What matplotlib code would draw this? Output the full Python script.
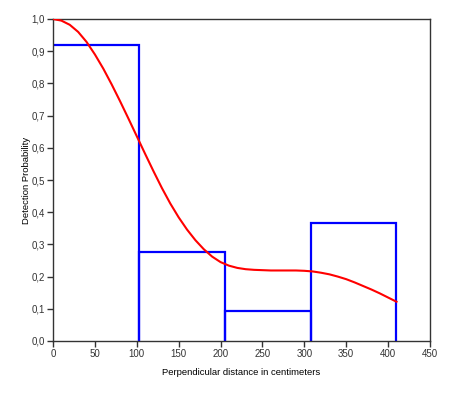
import numpy as np
import matplotlib
matplotlib.use("Agg")
import matplotlib.pyplot as plt
from matplotlib.ticker import FuncFormatter

plt.rcParams['font.family'] = ['Liberation Sans', 'DejaVu Sans']

# histogram of detections (bin edges in cm, scaled heights)
bin_edges = [0, 102.5, 205, 307.5, 410]
bin_heights = [0.918, 0.275, 0.092, 0.366]

# fitted detection function
curve_x = [0, 10, 20, 30, 40, 50, 60, 70, 80, 90, 100, 110, 120, 130, 140, 150,
           160, 170, 180, 190, 200, 210, 220, 230, 240, 250, 260, 270, 280, 290,
           300, 310, 320, 330, 340, 350, 360, 370, 380, 390, 400, 410]
curve_y = [1.0, 0.995, 0.982, 0.960, 0.929, 0.890, 0.846, 0.797, 0.745, 0.691,
           0.636, 0.581, 0.527, 0.475, 0.427, 0.384, 0.346, 0.313, 0.285, 0.262,
           0.245, 0.234, 0.227, 0.223, 0.221, 0.220, 0.219, 0.219, 0.219, 0.219,
           0.218, 0.216, 0.212, 0.207, 0.200, 0.192, 0.182, 0.171, 0.160, 0.148,
           0.135, 0.122]

fig = plt.figure(figsize=(4.51, 3.93), dpi=100)
ax = fig.add_axes([53/451, 52/393, 377/451, 322/393])

for i, h in enumerate(bin_heights):
    l, r = bin_edges[i], bin_edges[i + 1]
    if i == 0:
        xs, ys = [l, r, r], [h, h, 0]
    else:
        xs, ys = [l, l, r, r], [0, h, h, 0]
    ax.plot(xs, ys, color='#0000ff', lw=1.6, solid_joinstyle='miter',
            solid_capstyle='butt', zorder=2)

ax.plot(curve_x, curve_y, color='#ff0000', lw=1.5, zorder=3)

ax.set_xlim(0, 450)
ax.set_ylim(0, 1.0)
ax.set_xticks(np.arange(0, 451, 50))
ax.set_yticks(np.arange(0, 1.01, 0.1))
ax.yaxis.set_major_formatter(FuncFormatter(lambda v, p: f"{v:.1f}".replace('.', ',')))
ax.tick_params(direction='out', length=4, width=1, colors='#333333', labelsize=7,
               pad=2)
for s in ax.spines.values():
    s.set_color('#333333')
    s.set_linewidth(1)

ax.set_xlabel("Perpendicular distance in centimeters", fontsize=6.8, labelpad=6)
ax.set_ylabel("Detection Probability", fontsize=6.8, labelpad=0)

fig.savefig("out.png", dpi=100)
